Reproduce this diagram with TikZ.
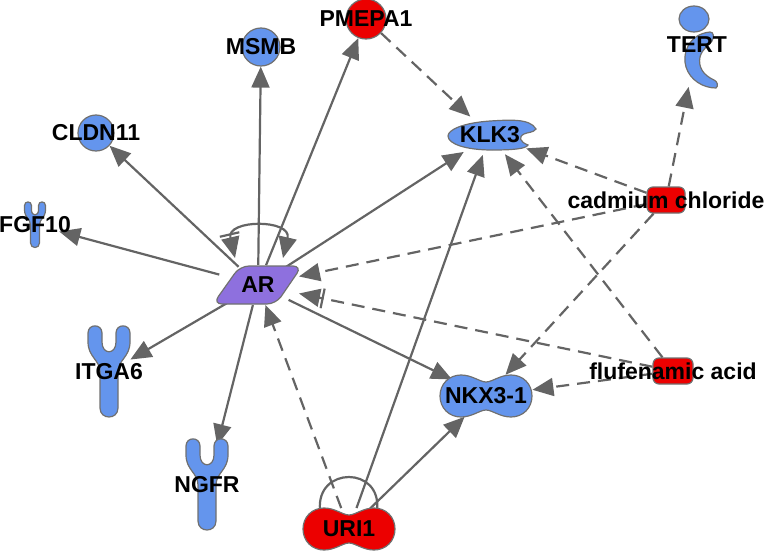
\documentclass[tikz,border=0pt]{standalone}
\usepackage{fontspec}
\setsansfont{Liberation Sans}
\usetikzlibrary{arrows.meta,shapes.geometric,calc,backgrounds}

\definecolor{ipablue}{RGB}{100,149,237}
\definecolor{ipared}{RGB}{236,0,0}
\definecolor{arpurple}{RGB}{142,112,222}
\definecolor{rim}{RGB}{112,112,112}
\definecolor{wire}{RGB}{100,100,100}

\tikzset{
  lab/.style={font=\sffamily\bfseries\fontsize{23}{23}\selectfont, inner sep=0pt},
  mol/.style={draw=rim, line width=1.2pt},
  hub/.style={ellipse, inner sep=0pt},
  gene/.style={circle, mol, fill=ipablue, inner sep=0pt},
  chem/.style={rectangle, mol, fill=ipared, rounded corners=6pt, minimum width=38pt, minimum height=26pt},
  act/.style={draw=wire, line width=2.2pt, -{Triangle[length=21pt,width=18pt]}},
  indirect/.style={act, dash pattern=on 13pt off 8pt},
  actinh/.style={-{Bar[width=20pt,line width=2.2pt,sep=2pt]Triangle[length=21pt,width=18pt]}},
  receptor/.pic={
    \draw[mol, fill=ipablue] (-21,-39) .. controls (-21,-48.5) and (-7,-48.5) .. (-7,-39)
      -- (-7,-30) .. controls (-7,-17) and (7,-17) .. (7,-30)
      -- (7,-39) .. controls (7,-48.5) and (21,-48.5) .. (21,-39)
      -- (21,-30) .. controls (21,-15) and (9,-12) .. (9,0)
      -- (9,36) .. controls (9,48) and (-9,48) .. (-9,36)
      -- (-9,0) .. controls (-9,-12) and (-21,-15) .. (-21,-30) -- cycle;
  },
  peanut/.pic={
    \draw[mol, fill=#1] (0,-14) .. controls (-6,-14) and (-14,-21) .. (-25,-21)
      .. controls (-37,-21) and (-46,-12) .. (-46,0)
      .. controls (-46,12) and (-37,21) .. (-25,21)
      .. controls (-14,21) and (-6,14) .. (0,14)
      .. controls (6,14) and (14,21) .. (25,21)
      .. controls (37,21) and (46,12) .. (46,0)
      .. controls (46,-12) and (37,-21) .. (25,-21)
      .. controls (14,-21) and (6,-14) .. cycle;
  },
  cup/.pic={
    \draw[mol, fill=ipablue] (46,-6) .. controls (40,-17) and (18,-15) .. (0,-14)
      .. controls (-28,-12) and (-42,-5) .. (-42,1)
      .. controls (-42,9) and (-24,15) .. (2,15)
      .. controls (22,15) and (36,14) .. (38,10)
      .. controls (30,7) and (28,2) .. (34,-1)
      .. controls (38,-3) and (43,-2) .. cycle;
  },
  hook/.pic={
    \draw[mol, fill=ipablue] (13,-13) .. controls (-9,-11) and (-15,10) .. (-11,22)
      .. controls (-7,35) and (6,43) .. (19,43) .. controls (22,41) and (20,36) .. (17,35)
      .. controls (6,30) and (1,22) .. (3,12) .. controls (5,4) and (12,0) .. (15,-4)
      .. controls (17,-8) and (17,-13) .. (13,-13) -- cycle;
    \draw[mol, fill=ipablue] (-3,-26) ellipse[x radius=15, y radius=13];
  },
  slab/.pic={
    \draw[mol, fill=arpurple, rounded corners=9pt] (-45,19) -- (-18,-19) -- (44,-19) -- (18,19) -- cycle;
  }
}

\begin{document}
\begin{tikzpicture}[x=1pt, y=-1pt]
  \useasboundingbox (0,0) rectangle (768,554);

  % shapes that are not plain node shapes
  \pic at (258,285) {slab};
  \pic at (109,372) {receptor};
  \pic at (207,485) {receptor};
  \pic[scale=0.5] at (35,225) {receptor};
  \pic at (490,135) {cup};
  \pic at (697,45) {hook};
  \pic at (486,396) {peanut=ipablue};
  \pic at (349,529) {peanut=ipared};

  % molecules
  \node[hub, minimum width=90pt, minimum height=40pt, label={[lab]center:AR}] (ar) at (258,285) {};
  \node[gene, fill=ipared, minimum size=40pt, label={[lab]center:PMEPA1}] (pmepa1) at (366,19) {};
  \node[gene, minimum size=38pt, label={[lab]center:MSMB}] (msmb) at (261,47) {};
  \node[gene, minimum size=36pt, label={[lab]center:CLDN11}] (cldn11) at (96,133) {};
  \node[hub, minimum width=50pt, minimum height=46pt, label={[lab]center:FGF10}] (fgf10) at (35,225) {};
  \node[hub, minimum width=44pt, minimum height=92pt, label={[lab]center:ITGA6}] (itga6) at (109,372) {};
  \node[hub, minimum width=42pt, minimum height=90pt, label={[lab]center:NGFR}] (ngfr) at (207,485) {};
  \node[hub, minimum width=96pt, minimum height=40pt, label={[lab]center:KLK3}] (klk3) at (490,135) {};
  \node[hub, minimum width=36pt, minimum height=94pt, label={[lab]center:TERT}] (tert) at (697,45) {};
  \node[hub, minimum width=96pt, minimum height=46pt, label={[lab]center:NKX3-1}] (nkx31) at (486,396) {};
  \node[hub, minimum width=96pt, minimum height=42pt, label={[lab]center:URI1}] (uri1) at (349,529) {};
  \node[chem, label={[lab]center:cadmium chloride}] (cdcl) at (666,200) {};
  \node[chem, minimum width=40pt, label={[lab]center:flufenamic acid}] (flu) at (673,371) {};

  \begin{pgfonlayer}{background}
    % direct
    \draw[act] (ar) -- (fgf10);
    \draw[act] (ar) -- (cldn11);
    \draw[act] (ar) -- (msmb);
    \draw[act] (ar) -- (pmepa1);
    \draw[act] (ar) -- (klk3);
    \draw[act] (ar) -- (itga6);
    \draw[act] (ar) -- (ngfr);
    \draw[act] (ar) -- (nkx31);
    \draw[act] (uri1) -- (klk3);
    \draw[act] (uri1) -- (nkx31);
    % indirect
    \draw[indirect] (uri1) -- (ar);
    \draw[indirect] (pmepa1) -- (klk3);
    \draw[indirect] (cdcl) -- (klk3);
    \draw[indirect] (cdcl) -- (tert);
    \draw[indirect] (cdcl) -- (ar);
    \draw[indirect] (cdcl) -- (nkx31);
    \draw[indirect, actinh] (flu) -- (ar);
    \draw[indirect] (flu) -- (klk3);
    \draw[indirect] (flu) -- (nkx31);
    % self loops
    \draw[draw=wire, line width=2.2pt, {Triangle[length=21pt,width=18pt]Bar[width=20pt,line width=2.2pt,sep=2pt]}-{Triangle[length=21pt,width=18pt]}]
      ($(ar)+(-23,-27)$) .. controls ($(ar)+(-32,-66)$) and ($(ar)+(34,-66)$) .. ($(ar)+(25,-27)$);
    \draw[draw=wire, line width=2.2pt]
      ($(uri1)+(-29,-19)$) .. controls ($(uri1)+(-33,-63)$) and ($(uri1)+(33,-63)$) .. ($(uri1)+(28,-19)$);
  \end{pgfonlayer}
\end{tikzpicture}
\end{document}
